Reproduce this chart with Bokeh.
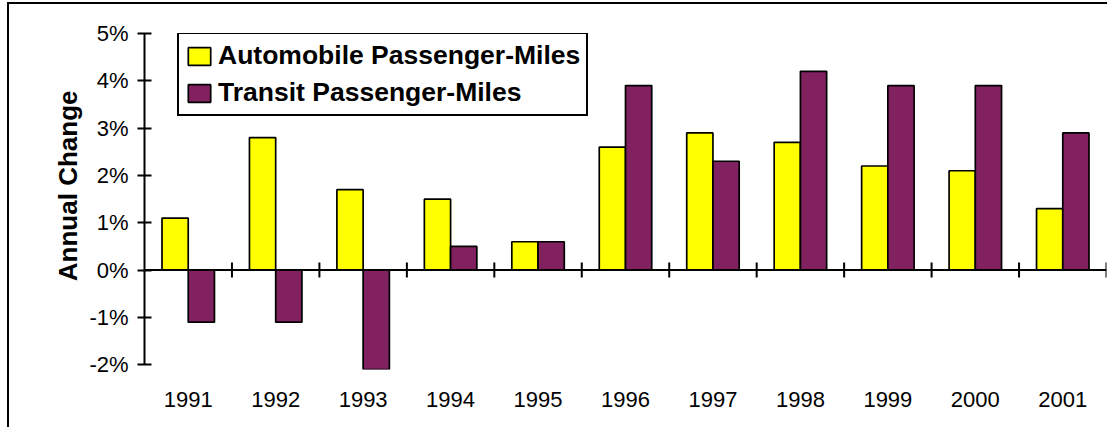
import numpy as np
from bokeh.plotting import figure
from bokeh.models import (Range1d, FixedTicker, PrintfTickFormatter, Span,
                          Legend, LegendItem, ColumnDataSource, Title)
from bokeh.embed import file_html
from bokeh.resources import INLINE

years = ["1991", "1992", "1993", "1994", "1995", "1996",
         "1997", "1998", "1999", "2000", "2001"]
auto = [1.1, 2.8, 1.7, 1.5, 0.6, 2.6, 2.9, 2.7, 2.2, 2.1, 1.3]
transit = [-1.1, -1.1, -2.1, 0.5, 0.6, 3.9, 2.3, 4.2, 3.9, 3.9, 2.9]
y_ticks = [-2, -1, 0, 1, 2, 3, 4, 5]
auto_label = "Automobile Passenger-Miles"
transit_label = "Transit Passenger-Miles"
y_title = "Annual Change"

YELLOW = "#FFFF00"
PURPLE = "#822160"
FONT = "Liberation Sans"

n = len(years)
centers = [i + 0.5 for i in range(n)]
src = ColumnDataSource(dict(
    xa=[c - 0.15 for c in centers],
    xt=[c + 0.15 for c in centers],
    auto=auto, transit=transit))

p = figure(width=1107, height=427,
           x_range=Range1d(0, n), y_range=Range1d(-2.1, 5),
           output_backend="svg", toolbar_location=None,
           min_border_left=144, min_border_right=1,
           min_border_top=33, min_border_bottom=58)
p.background_fill_color = None
p.border_fill_color = None
p.outline_line_color = None
p.xgrid.visible = False
p.ygrid.visible = False
p.styles = {"box-shadow": "inset 7px 2px 0 0 #ffffff, inset 9px 4px 0 0 #000000"}

ra = p.vbar(x="xa", top="auto", bottom=0, width=0.3, source=src,
            fill_color=YELLOW, line_color="black", line_width=1.7)
rt = p.vbar(x="xt", top="transit", bottom=0, width=0.3, source=src,
            fill_color=PURPLE, line_color="black", line_width=1.7)

p.add_layout(Span(location=0, dimension="width", line_color="black",
                  line_width=2))
p.scatter(x=list(range(1, n + 1)), y=[0] * n, marker="dash",
          angle=np.pi / 2, size=15, line_color="black", line_width=2)

yax = p.yaxis[0]
yax.ticker = FixedTicker(ticks=y_ticks)
yax.formatter = PrintfTickFormatter(format="%d%%")
yax.bounds = (y_ticks[0], y_ticks[-1])
yax.axis_line_width = 2
yax.major_tick_line_width = 2
yax.major_tick_in = 7
yax.major_tick_out = 7
yax.minor_tick_line_color = None
yax.major_label_text_font = FONT
yax.major_label_text_font_size = "22px"
yax.major_label_text_color = "black"
yax.major_label_standoff = 9

ytitle = Title(text=y_title, align="right", offset=57, standoff=8,
               text_font=FONT, text_font_size="26px", text_font_style="bold",
               text_color="black")
p.add_layout(ytitle, "left")

xax = p.xaxis[0]
xax.ticker = FixedTicker(ticks=centers)
xax.major_label_overrides = {c: y for c, y in zip(centers, years)}
xax.axis_line_color = None
xax.major_tick_line_color = None
xax.minor_tick_line_color = None
xax.major_label_text_font = FONT
xax.major_label_text_font_size = "22px"
xax.major_label_text_color = "black"
xax.major_label_standoff = 16

legend = Legend(items=[LegendItem(label=auto_label, renderers=[ra]),
                       LegendItem(label=transit_label, renderers=[rt])],
                location=(33, 253))
legend.padding = 6
legend.spacing = 6
legend.margin = 0
legend.label_height = 22
legend.glyph_height = 22
legend.glyph_width = 28
legend.label_standoff = 5
legend.label_text_font = FONT
legend.label_text_font_size = "26.5px"
legend.label_text_font_style = "bold"
legend.label_text_color = "black"
legend.border_line_color = "black"
legend.border_line_alpha = 1
legend.border_line_width = 2
legend.background_fill_color = "white"
legend.background_fill_alpha = 1
p.add_layout(legend)

open("out.html", "w").write(file_html(p, INLINE))
